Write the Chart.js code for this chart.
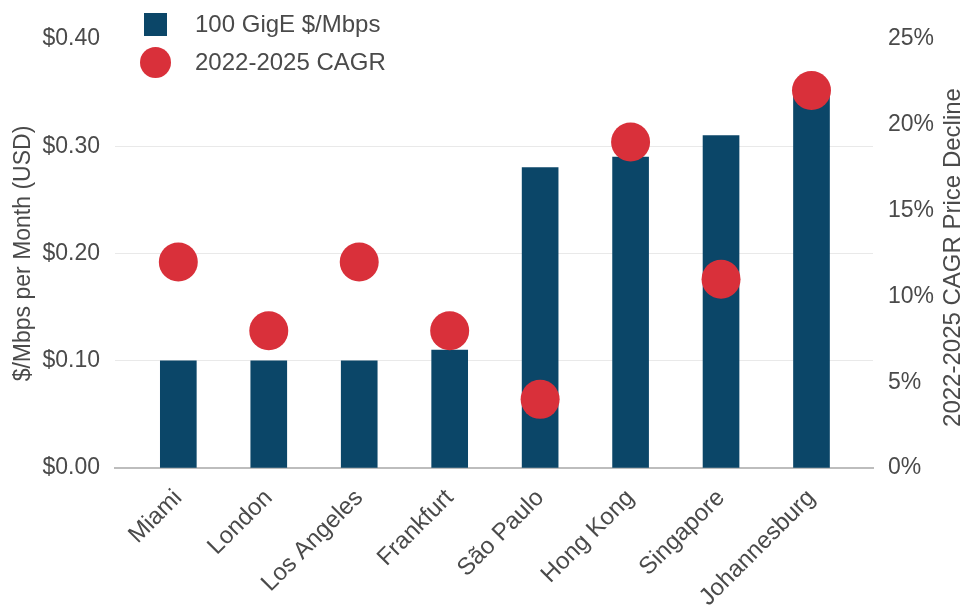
<!DOCTYPE html>
<html>
<head>
<meta charset="utf-8">
<title>100 GigE transit pricing</title>
<script src="https://cdn.jsdelivr.net/npm/chart.js@4.4.1/dist/chart.umd.min.js"></script>
<style>
  html, body { margin: 0; padding: 0; background: #fff; }
  #wrap { position: relative; width: 963px; height: 609px; }
  #legend { position: absolute; left: 140px; top: 5px; font-family: "Liberation Sans", Arial, sans-serif; font-size: 24px; color: #4a4a4a; }
  .item { display: flex; align-items: center; height: 38px; }
  .swatch { width: 31px; display: flex; justify-content: center; margin-right: 24px; }
  .sq { width: 23px; height: 23px; }
  .dot { width: 31px; height: 31px; border-radius: 50%; }
</style>
</head>
<body>
<div id="wrap">
  <canvas id="chart" width="963" height="609"></canvas>
  <div id="legend"></div>
</div>
<script>
const cities = ['Miami', 'London', 'Los Angeles', 'Frankfurt', 'São Paulo', 'Hong Kong', 'Singapore', 'Johannesburg'];
const pricePerMbps = [0.10, 0.10, 0.10, 0.11, 0.28, 0.29, 0.31, 0.35];
const cagrDecline = [12, 8, 12, 8, 4, 19, 11, 22];
const priceTicks = [0, 0.1, 0.2, 0.3, 0.4];
const pctTicks = [0, 5, 10, 15, 20, 25];

const BLUE = '#0b4668';
const RED = '#d9303a';
const TEXT = '#4a4a4a';
const FAMILY = '"Liberation Sans", Arial, sans-serif';
const FONT = { family: FAMILY, size: 23 };
const RIGHT_TITLE = '2022-2025 CAGR Price Decline';

// Right-hand axis title, reading bottom to top
const rightTitle = {
    id: 'rightTitle',
    afterDraw(chart) {
        const c = chart.ctx;
        const area = chart.chartArea;
        c.save();
        c.translate(chart.width - 10, (area.top + area.bottom) / 2 + 4);
        c.rotate(-Math.PI / 2);
        c.font = '24px ' + FAMILY;
        c.fillStyle = TEXT;
        c.textAlign = 'center';
        c.textBaseline = 'middle';
        c.fillText(RIGHT_TITLE, 0, 0);
        c.restore();
    }
};

document.addEventListener('DOMContentLoaded', function() {
    const ctx = document.getElementById('chart').getContext('2d');
    const chart = new Chart(ctx, {
        data: {
            datasets: [
                {
                    type: 'line',
                    label: '2022-2025 CAGR',
                    data: cagrDecline.map((v, i) => ({ x: i, y: v })),
                    yAxisID: 'y2',
                    showLine: false,
                    pointRadius: 19.5,
                    pointHoverRadius: 19.5,
                    pointBackgroundColor: RED,
                    pointBorderWidth: 0,
                    order: 0
                },
                {
                    type: 'bar',
                    label: '100 GigE $/Mbps',
                    data: pricePerMbps.map((v, i) => ({ x: i, y: v })),
                    yAxisID: 'y',
                    backgroundColor: BLUE,
                    barThickness: 36,
                    order: 1
                }
            ]
        },
        options: {
            responsive: false,
            animation: false,
            layout: { padding: { top: 39, left: 0, right: 0, bottom: 0 } },
            plugins: {
                legend: { display: false },
                tooltip: { enabled: false }
            },
            scales: {
                x: {
                    type: 'linear',
                    offset: false,
                    min: -0.7,
                    max: 7.68,
                    afterBuildTicks: function(scale) {
                        scale.ticks = cities.map((_, i) => ({ value: i }));
                    },
                    afterFit: function(scale) { scale.height = 141; },
                    grid: { display: false, drawTicks: false },
                    border: { display: true, color: '#bdbdbd', width: 2 },
                    ticks: {
                        autoSkip: false,
                        maxRotation: 45,
                        minRotation: 45,
                        padding: 16,
                        color: TEXT,
                        font: { family: FAMILY, size: 24 },
                        callback: function(value) { return cities[value]; }
                    }
                },
                y: {
                    position: 'left',
                    min: 0,
                    max: 0.4,
                    afterBuildTicks: function(scale) {
                        scale.ticks = priceTicks.map(v => ({ value: v }));
                    },
                    afterFit: function(scale) { scale.width = 115; },
                    border: { display: false },
                    grid: {
                        drawTicks: false,
                        color: function(c) {
                            const v = c.tick ? c.tick.value : 0;
                            return (v > 0.001 && v < 0.399) ? '#e9e9e9' : 'rgba(0,0,0,0)';
                        }
                    },
                    ticks: {
                        padding: 15,
                        color: TEXT,
                        font: FONT,
                        callback: function(v) { return '$' + Number(v).toFixed(2); }
                    },
                    title: {
                        display: true,
                        text: '$/Mbps per Month (USD)',
                        color: TEXT,
                        font: FONT,
                        padding: { top: 10, bottom: 0 }
                    }
                },
                y2: {
                    position: 'right',
                    min: 0,
                    max: 25,
                    afterBuildTicks: function(scale) {
                        scale.ticks = pctTicks.map(v => ({ value: v }));
                    },
                    afterFit: function(scale) { scale.width = 90; },
                    border: { display: false },
                    grid: { display: false, drawTicks: false },
                    ticks: {
                        padding: 15,
                        color: TEXT,
                        font: FONT,
                        callback: function(v) { return v + '%'; }
                    }
                }
            }
        },
        plugins: [rightTitle]
    });

    // Legend: bars first, then the CAGR markers
    const legend = document.getElementById('legend');
    [chart.data.datasets[1], chart.data.datasets[0]].forEach(ds => {
        const row = document.createElement('div');
        row.className = 'item';
        const sw = document.createElement('div');
        sw.className = 'swatch';
        const mark = document.createElement('div');
        mark.className = ds.type === 'bar' ? 'sq' : 'dot';
        mark.style.background = ds.type === 'bar' ? ds.backgroundColor : ds.pointBackgroundColor;
        sw.appendChild(mark);
        const label = document.createElement('span');
        label.textContent = ds.label;
        row.appendChild(sw);
        row.appendChild(label);
        legend.appendChild(row);
    });
});
</script>
</body>
</html>
